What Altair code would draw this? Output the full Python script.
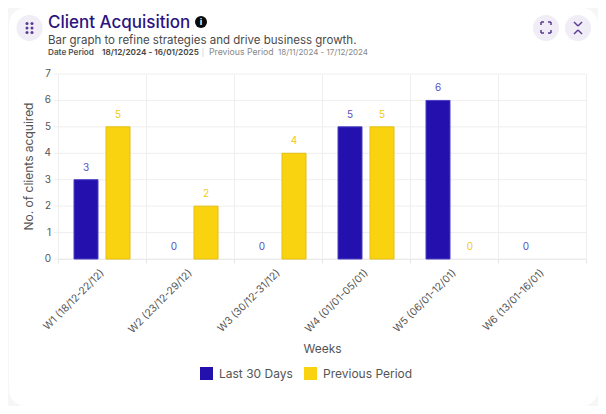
import altair as alt
import pandas as pd

weeks = ["W1 (18/12-22/12)", "W2 (23/12-29/12)", "W3 (30/12-31/12)",
         "W4 (01/01-05/01)", "W5 (06/01-12/01)", "W6 (13/01-16/01)"]
last_30 = [3, 0, 0, 5, 6, 0]
previous = [5, 2, 4, 5, 0, None]
y_ticks = [0, 1, 2, 3, 4, 5, 6, 7]
series = ["Last 30 Days", "Previous Period"]
bar_colors = ["#2310ad", "#f9d30f"]
bar_strokes = ["#4a3ec4", "#e3bf12"]
label_colors = ["#5a4ec8", "#f2c91a"]

FONT = "Inter"
INK = "#555555"
L, T = 50, 66     # plot origin inside the canvas
W, H = 528, 185
CW, CH = 590, 398

rows = []
for i, w in enumerate(weeks):
    rows.append({"week": w, "series": series[0], "value": last_30[i]})
    if previous[i] is not None:
        rows.append({"week": w, "series": series[1], "value": previous[i]})
df = pd.DataFrame(rows)
tick_df = pd.DataFrame({"value": y_ticks})

x_enc = alt.X("week:N", sort=weeks,
              scale=alt.Scale(domain=weeks, paddingInner=0, paddingOuter=0),
              axis=alt.Axis(title="Weeks", titleFont=FONT, titleFontSize=12, titleFontWeight="normal",
                            titleColor=INK, titleY=84, titleX=264,
                            labelAngle=-45, labelAlign="right", labelBaseline="middle",
                            labelFont=FONT, labelFontSize=10.3, labelColor=INK, labelPadding=8,
                            labelOverlap=False, labelBound=False, labelFlush=False,
                            grid=True, gridColor="#eeeeee", tickColor="#e6e6e6", tickSize=4,
                            domainColor="#e6e6e6", tickBand="extent"))
y_scale = alt.Scale(domain=[0, 7], nice=False)
y_enc = alt.Y("value:Q", scale=y_scale,
              axis=alt.Axis(title="No. of clients acquired", titleFont=FONT, titleFontSize=12,
                            titleFontWeight="normal", titleColor=INK, titleX=-23, titleY=92,
                            labels=False, ticks=False, grid=False, domain=False))
off_scale = alt.Scale(domain=series, paddingInner=0.25, paddingOuter=0.5)

y_grid = alt.Chart(tick_df).mark_rule(color="#eeeeee", strokeWidth=1).encode(
    y=y_enc, x=alt.value(-4), x2=alt.value(W))
y_labels = alt.Chart(tick_df).mark_text(font=FONT, fontSize=10, color=INK, align="right",
                                        baseline="middle").encode(
    y=y_enc, x=alt.value(-7), text=alt.Text("value:Q", format="d"))

bars = alt.Chart(df).transform_filter("datum.value > 0").mark_bar(strokeWidth=1).encode(
    x=x_enc, y=y_enc,
    xOffset=alt.XOffset("series:N", scale=off_scale),
    color=alt.Color("series:N", scale=alt.Scale(domain=series, range=bar_colors),
                    legend=alt.Legend(orient="none", legendX=200 - 8 - L, legendY=367 - 8 - T,
                                      direction="horizontal", title=None, symbolType="square",
                                      symbolSize=169, symbolStrokeWidth=0, symbolOpacity=1,
                                      labelFont=FONT, labelFontSize=12, labelColor=INK,
                                      labelOffset=6, columnPadding=11)),
    stroke=alt.Stroke("series:N", scale=alt.Scale(domain=series, range=bar_strokes), legend=None),
)
labels = alt.Chart(df).mark_text(font=FONT, fontSize=10, dy=-12, baseline="middle").encode(
    x=x_enc, y=y_enc,
    xOffset=alt.XOffset("series:N", scale=off_scale),
    text=alt.Text("value:Q", format="d"),
    fill=alt.Fill("series:N", scale=alt.Scale(domain=series, range=label_colors), legend=None),
)

one = pd.DataFrame({"a": [0]})


def px(v):
    return alt.value(v - 8 - L)


def py(v):
    return alt.value(v - 8 - T)


def txt(s, x, y, size, color, weight=400):
    return alt.Chart(one).mark_text(text=s, font=FONT, fontSize=size, color=color, fontWeight=weight,
                                    align="left", baseline="alphabetic").encode(x=px(x), y=py(y))


def dot(x, y, d, color):
    return alt.Chart(one).mark_circle(size=d * d, color=color, opacity=1).encode(x=px(x), y=py(y))


def seg(x1, y1, x2, y2, color, w=1.5):
    return alt.Chart(one).mark_rule(color=color, strokeWidth=w).encode(
        x=px(x1), y=py(y1), x2=px(x2), y2=py(y2))


PURPLE = "#5a3a96"
PALE = "#f0edf6"
deco = [
    txt("Client Acquisition", 48, 28, 17, "#2b1480", 500),
    txt("Bar graph to refine strategies and drive business growth.", 48, 44, 11.5, "#4a4a4a"),
    txt("Date Period", 48, 55, 8.2, "#555555", 600),
    txt("18/12/2024 - 16/01/2025", 102, 55, 8.2, "#444444", 600),
    txt("Previous Period", 209, 55, 8.7, "#888888"),
    txt("18/11/2024 - 17/12/2024", 278, 55, 8, "#888888"),
    seg(203, 48, 203, 57, "#dddddd", 1),
    dot(201, 22, 12, "#0a0a0a"),
    alt.Chart(one).mark_text(text="i", font=FONT, fontSize=9, color="white", fontWeight="bold",
                             align="center", baseline="middle").encode(x=px(201), y=py(22)),
    dot(29.5, 28, 26, PALE),
    dot(546, 28, 26, PALE),
    dot(578, 28, 26, PALE),
]
for gx in (27, 32):
    for gy in (23.5, 28, 32.5):
        deco.append(dot(gx, gy, 3, PURPLE))
for sx, sy, dx, dy in [(541, 22, 1, 1), (551, 22, -1, 1), (541, 33, 1, -1), (551, 33, -1, -1)]:
    deco.append(seg(sx, sy, sx + 3 * dx, sy, PURPLE))
    deco.append(seg(sx, sy, sx, sy + 3 * dy, PURPLE))
for a, b, c, d in [(574, 22, 578, 26), (582, 22, 578, 26), (574, 34, 578, 30), (582, 34, 578, 30)]:
    deco.append(seg(a, b, c, d, PURPLE))

# soft frame outside the rounded card, drawn over the canvas edges
frame = alt.Chart(one).mark_rect(fill=None, stroke="#f6f6f6", strokeWidth=24, cornerRadius=28).encode(
    x=alt.value(-L + 1 - 12), x2=alt.value(-L + CW + 12),
    y=alt.value(-T - 12), y2=alt.value(-T + CH + 12))

chart = alt.layer(y_grid, y_labels, bars, labels, frame, *deco).resolve_scale(
    color="independent", fill="independent", stroke="independent"
).properties(
    width=W, height=H,
    padding={"left": L, "top": T, "right": CW - L - W, "bottom": CH - T - H},
    autosize=alt.AutoSizeParams(type="none", contains="content"),
    background="white",
).configure_view(stroke=None)

chart.save("out.html", embed_options={"renderer": "svg", "actions": False})
